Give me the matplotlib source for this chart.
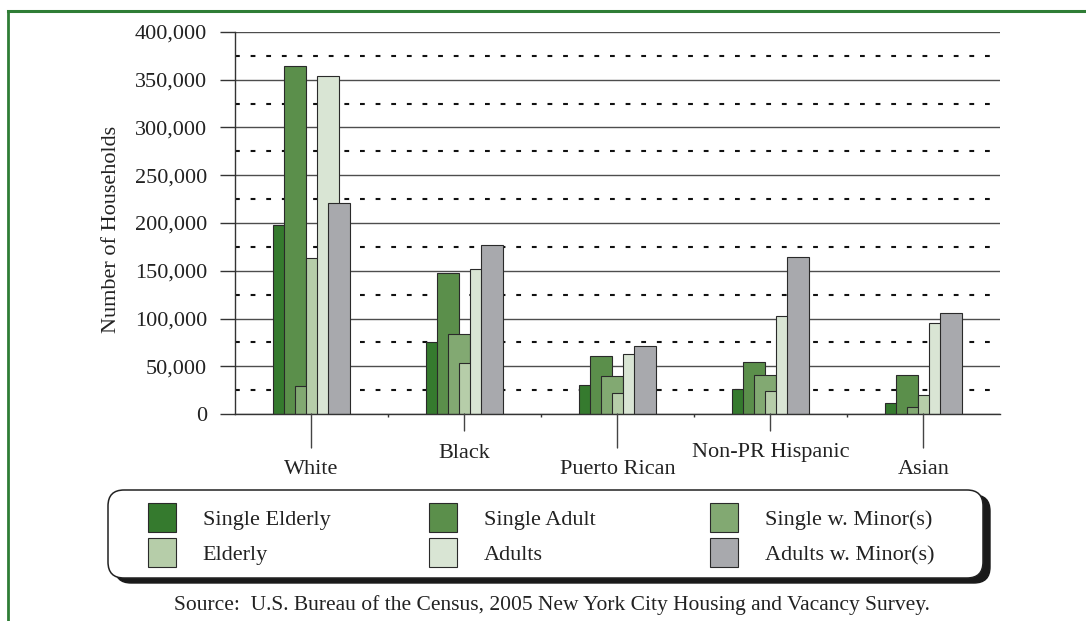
import matplotlib.pyplot as plt
import numpy as np
from matplotlib.patches import FancyBboxPatch
from matplotlib.lines import Line2D
from matplotlib.ticker import MultipleLocator, FuncFormatter, FixedLocator

groups = ['White', 'Black', 'Puerto Rican', 'Non-PR Hispanic', 'Asian']
series = ['Single Elderly', 'Single Adult', 'Single w. Minor(s)',
          'Elderly', 'Adults', 'Adults w. Minor(s)']
single_elderly = [198000, 75000, 30000, 26000, 11000]
single_adult = [364000, 148000, 61000, 54000, 41000]
single_minors = [29000, 84000, 40000, 41000, 7000]
elderly = [163000, 53000, 22000, 24000, 20000]
adults = [354000, 152000, 63000, 103000, 95000]
adults_minors = [221000, 177000, 71000, 164000, 106000]
values = [single_elderly, single_adult, single_minors, elderly, adults, adults_minors]

colors = ['#357a2e', '#5b8f4b', '#82a972', '#b6cda9', '#d9e5d4', '#a8a9ad']

W, H = 1086, 621
plt.rcParams['font.family'] = 'Liberation Serif'
plt.rcParams['text.color'] = '#222222'

fig = plt.figure(figsize=(W / 100, H / 100), dpi=100)
ax = fig.add_axes([235 / W, 1 - 414 / H, 765 / W, 382 / H])

x = np.arange(len(groups))
step = 0.071
width = 0.144
bars = []
for k, vals in enumerate(values):
    b = ax.bar(x + (k - 2.5) * step, vals, width, color=colors[k],
               edgecolor='#2a2a2a', linewidth=0.8, label=series[k])
    bars.append(b)

ax.set_xlim(-0.5, len(groups) - 0.5)
ax.set_ylim(0, 400000)

# solid lines every 50k, dotted halfway between
ax.yaxis.set_major_locator(MultipleLocator(50000))
ax.yaxis.set_minor_locator(MultipleLocator(25000))
ax.yaxis.set_major_formatter(FuncFormatter(lambda v, p: '{:,.0f}'.format(v)))
ax.set_axisbelow(True)
ax.grid(axis='y', which='major', color='#4d4d4d', linewidth=1.0)
ax.grid(axis='y', which='minor', color='#111111', linewidth=1.5,
        linestyle=(0, (2.3, 5.2)))
ax.tick_params(axis='y', which='major', length=11, width=1, color='#333333',
               pad=9, labelsize=16, labelcolor='#222222')
ax.tick_params(axis='y', which='minor', length=0)

# category labels hang below the axis on leader lines, alternating heights
ax.set_xticks(x)
ax.set_xticklabels([])
ax.tick_params(axis='x', which='major', length=0)
ax.xaxis.set_minor_locator(FixedLocator(x[:-1] + 0.5))
ax.tick_params(axis='x', which='minor', length=2, width=1, color='#333333')
for i, name in enumerate(groups):
    drop = 56 if i % 2 == 0 else 39
    ax.annotate(name, xy=(i, 0), xycoords=('data', 'axes fraction'),
                xytext=(0, -drop), textcoords='offset pixels',
                ha='center', va='center', fontsize=16, color='#222222',
                arrowprops=dict(arrowstyle='-', color='#444444', lw=1,
                                shrinkA=7, shrinkB=0))

for side in ['top', 'right']:
    ax.spines[side].set_visible(False)
for side in ['left', 'bottom']:
    ax.spines[side].set_color('#333333')
    ax.spines[side].set_linewidth(1.0)

ax.set_ylabel('Number of Households', fontsize=16, color='#222222')
ax.yaxis.label.set_verticalalignment('center')
ax.yaxis.set_label_coords((112 - 235) / 765, 0.482)

# rounded legend box with a hard black shadow
box_x0, box_y0, box_x1, box_y1 = 108, 490, 983, 578
shadow = FancyBboxPatch(((box_x0 + 7) / 100, (H - box_y1 - 5) / 100),
                        (box_x1 - box_x0) / 100, (box_y1 - box_y0) / 100,
                        boxstyle='round,pad=0,rounding_size=0.16',
                        transform=fig.dpi_scale_trans, facecolor='#1a1a1a',
                        edgecolor='#1a1a1a', linewidth=1)
frame = FancyBboxPatch((box_x0 / 100, (H - box_y1) / 100),
                       (box_x1 - box_x0) / 100, (box_y1 - box_y0) / 100,
                       boxstyle='round,pad=0,rounding_size=0.16',
                       transform=fig.dpi_scale_trans, facecolor='white',
                       edgecolor='#222222', linewidth=1.1)
fig.patches.extend([shadow, frame])

col_x = [148, 429, 710]
for c in range(3):
    fig.legend([bars[c], bars[c + 3]], [series[c], series[c + 3]],
               loc='upper left', bbox_to_anchor=(col_x[c] / W, 1 - 503 / H),
               frameon=False, fontsize=16, handlelength=1.26,
               handleheight=1.63, handletextpad=1.2, labelspacing=0.29,
               borderpad=0, borderaxespad=0)

fig.text(552 / W, 1 - 605 / H,
         'Source:  U.S. Bureau of the Census, 2005 New York City Housing and Vacancy Survey.',
         ha='center', va='center', fontsize=15.5)

# green page frame along the top and left edges
green = '#2f7d36'
fig.lines.append(Line2D([8 / W, 1], [1 - 11 / H, 1 - 11 / H], transform=fig.transFigure,
                        color=green, linewidth=2.2))
fig.lines.append(Line2D([8 / W, 8 / W], [1 - 11 / H, 0], transform=fig.transFigure,
                        color=green, linewidth=2.0))

fig.savefig('out.png', dpi=100)
